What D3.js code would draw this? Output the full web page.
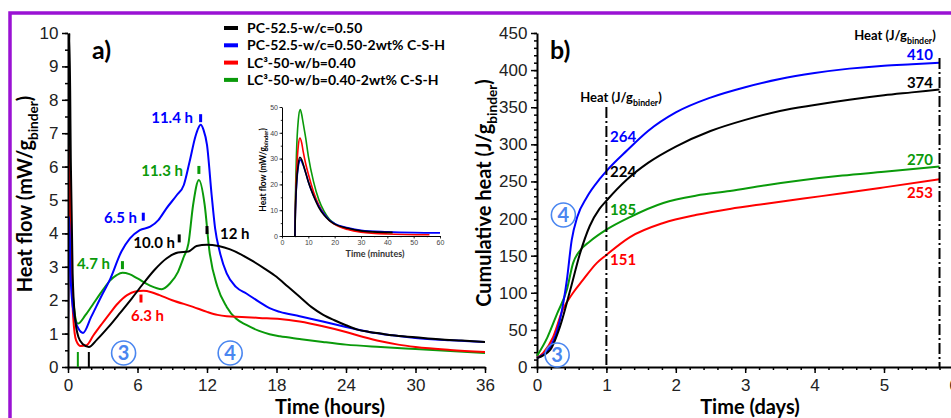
<!DOCTYPE html>
<html>
<head>
<meta charset="utf-8">
<script src="https://cdn.jsdelivr.net/npm/d3@7"></script>
<style>
  body { margin: 0; background: #fff; }
  svg { display: block; }
  text { font-family: Lato, "Open Sans", sans-serif; }
  .tick text { font-family: "Liberation Sans", Arial, sans-serif; }
</style>
</head>
<body>
<svg id="chart" width="951" height="418"></svg>
<script>
// legend / series
const seriesNames = ['PC-52.5-w/c=0.50', 'PC-52.5-w/c=0.50-2wt% C-S-H', 'LC³-50-w/b=0.40', 'LC³-50-w/b=0.40-2wt% C-S-H'];
const seriesColors = ['#000000', '#0000ff', '#ff0000', '#0a9a0a'];

// panel a) heat flow, [hours, mW/g]
const pcFlow = [[0,0.5],[0.12,10],[0.25,6],[0.4,2.8],[0.6,1.5],[0.9,0.9],[1.3,0.68],[1.8,0.6],[2.5,0.82],[3.5,1.2],[4.5,1.62],[5.5,2.05],[6.5,2.5],[7.5,2.92],[8.5,3.25],[9.5,3.43],[10.4,3.46],[11.1,3.62],[12,3.66],[13,3.62],[14,3.52],[15,3.36],[16,3.16],[17,2.94],[18,2.7],[19,2.4],[20,2.1],[21,1.8],[22,1.57],[23,1.4],[24,1.25],[25,1.12],[26,1.05],[27,1.0],[28,0.95],[30,0.89],[32,0.83],[34,0.79],[36,0.75]];
const csFlow = [[0,0.8],[0.1,4.5],[0.25,2.5],[0.5,1.6],[0.9,1.15],[1.3,1.02],[2,1.5],[3,2.2],[3.6,2.6],[4.6,3.45],[5.35,3.85],[6.2,4.1],[7.1,4.2],[7.8,4.4],[8.5,4.75],[9.4,5.15],[10,5.45],[10.5,6.15],[11,6.9],[11.25,7.15],[11.45,7.25],[11.7,7.1],[12,6.65],[12.4,5.15],[12.7,4.15],[13.1,3.45],[13.7,2.8],[14.5,2.4],[15.4,2.2],[16.5,1.95],[17.4,1.76],[18.3,1.65],[20,1.52],[22,1.36],[24,1.2],[26,1.05],[28,0.95],[30,0.87],[33,0.8],[36,0.75]];
const lcFlow = [[0,0.7],[0.1,7],[0.25,3.5],[0.45,1.5],[0.7,0.8],[1.1,0.63],[1.6,0.65],[2.2,0.95],[2.9,1.28],[3.6,1.6],[4.3,1.9],[5.1,2.15],[5.8,2.26],[6.5,2.28],[7.2,2.24],[7.9,2.15],[9,2.0],[10.8,1.8],[12,1.65],[12.9,1.56],[13.7,1.52],[15,1.5],[16.5,1.47],[18.3,1.44],[20,1.36],[22,1.22],[24,1.05],[25.5,0.9],[27,0.77],[28.5,0.67],[30,0.6],[33,0.51],[36,0.45]];
const lcCsFlow = [[0,0.7],[0.1,8],[0.25,4],[0.45,2],[0.85,1.3],[1.5,1.55],[2.2,1.9],[3,2.3],[3.6,2.58],[4.2,2.75],[4.7,2.82],[5.3,2.78],[6,2.65],[7,2.45],[8.1,2.33],[8.8,2.5],[9.5,2.85],[10,3.3],[10.4,3.7],[10.8,4.85],[11.3,5.6],[11.8,4.85],[12.2,3.5],[12.9,2.4],[13.7,1.8],[14.5,1.45],[15.4,1.26],[16.5,1.08],[17.4,0.98],[18.3,0.92],[20,0.84],[22,0.75],[24,0.67],[27,0.6],[30,0.54],[33,0.48],[36,0.42]];

// inset, [minutes, mW/g]
const pcInset = [[4.9,0],[5.1,10],[5.5,20],[6.2,28],[6.8,30.5],[7.5,29.5],[8,28],[9,24.5],[10,21],[12,15.5],[14,11],[16,8],[18,6],[20,4.6],[25,3],[30,2],[35,1.6],[42,1.4]];
const csInset = [[4.9,0],[5.1,10],[5.5,19],[6.2,27],[7,29.5],[8,27.5],[9,24.5],[10,21],[12,15.5],[14,11.5],[16,8.5],[18,6.2],[20,4.8],[25,3.2],[30,2.2],[40,1.6],[50,1.3],[60,1.2]];
const lcInset = [[4.9,0],[5.1,12],[5.6,26],[6.2,35],[6.8,38],[7.5,36],[8,33],[9,28],[10,24],[12,17],[14,12],[16,8.5],[18,6],[20,4.5],[25,2.5],[30,1.5],[40,0.8],[56,0.5]];
const lcCsInset = [[4.9,0],[5.1,15],[5.5,32],[6.2,45],[6.9,49],[7.5,47],[8,44],[9,38],[10,31],[12,21],[14,14],[16,9.5],[18,6.5],[20,4.8],[25,2.8],[30,1.9],[40,1.3],[42,1.25]];

// panel b) cumulative heat, [days, J/g]
const pcCum = [[0,12],[0.19,23],[0.33,54],[0.48,104],[0.62,153],[0.76,190],[0.9,213],[1,224],[1.3,253],[1.6,275],[2,297],[2.5,318],[3,333],[3.5,345],[4,353],[4.5,360],[5,366],[5.4,370],[5.8,374]];
const csCum = [[0,12],[0.19,27],[0.33,63],[0.43,117],[0.5,171],[0.58,202],[0.72,229],[0.91,254],[1,264],[1.3,292],[1.6,318],[2,343],[2.5,363],[3,377],[3.5,388],[4,396],[4.5,402],[5,406],[5.4,408],[5.8,410]];
const lcCum = [[0,12],[0.09,19],[0.23,40],[0.37,77],[0.52,100],[0.66,117],[0.86,140],[1,151],[1.34,175],[1.82,194],[2.3,205],[2.78,213],[3.3,220],[3.84,227],[4.4,234],[5,242],[5.8,253]];
const lcCsCum = [[0,15],[0.15,40],[0.29,72],[0.43,104],[0.52,140],[0.62,157],[0.76,169],[1,185],[1.34,202],[1.82,221],[2.3,231],[2.78,237],[3.3,245],[3.84,252],[4.4,258],[5,263],[5.8,270]];

const flowSeries = [lcCsFlow, lcFlow, csFlow, pcFlow];
const insetSeries = [lcCsInset, lcInset, csInset, pcInset];
const cumSeries = [lcCsCum, lcCum, csCum, pcCum];
const drawColors = [seriesColors[3], seriesColors[2], seriesColors[1], seriesColors[0]];

// peak-time labels in panel a): [text, hours, mW/g of the tick mark, colour index]
const peakLabels = [['11.4 h', 11.45, 7.45, 1], ['11.3 h', 11.3, 5.9, 3], ['6.5 h', 6.5, 4.5, 1], ['10.0 h', 9.6, 3.85, 0], ['12 h', 12, 4.1, 0], ['4.7 h', 4.7, 3.05, 3], ['6.3 h', 6.3, 2.05, 2]];
// day-1 and end values in panel b)
const day1Values = [264, 224, 185, 151];
const endValues = [410, 374, 270, 253];
const day1Colors = [seriesColors[1], seriesColors[0], seriesColors[3], seriesColors[2]];

const svg = d3.select('#chart');

svg.append('rect')
    .attr('x', 10).attr('y', 13)
    .attr('width', 960).attr('height', 440)
    .attr('fill', 'none')
    .attr('stroke', '#9a12d4')
    .attr('stroke-width', 3.5);

const xFlow = d3.scaleLinear().domain([0, 36]).range([68, 485]);
const yFlow = d3.scaleLinear().domain([0, 10]).range([367, 33]);
const xCum = d3.scaleLinear().domain([0, 6]).range([537, 953.4]);
const yCum = d3.scaleLinear().domain([0, 450]).range([367, 33]);
const xIn = d3.scaleLinear().domain([0, 60]).range([282, 440]);
const yIn = d3.scaleLinear().domain([0, 50]).range([236, 107]);

function drawAxes(x, y, xMajor, xMinor, yMajor, yMinor, fontSize, size, pad) {
    const g = svg.append('g');
    const y0 = y.range()[0], x0 = x.range()[0];

    g.append('g').attr('transform', `translate(0,${y0})`)
        .call(d3.axisBottom(x).tickValues(xMinor).tickSize(size / 2).tickFormat(''))
        .call(a => a.select('.domain').remove());
    g.append('g').attr('transform', `translate(${x0},0)`)
        .call(d3.axisLeft(y).tickValues(yMinor).tickSize(size / 2).tickFormat(''))
        .call(a => a.select('.domain').remove());

    g.append('g').attr('transform', `translate(0,${y0})`)
        .call(d3.axisBottom(x).tickValues(xMajor).tickSize(size).tickSizeOuter(0)
            .tickPadding(pad).tickFormat(d3.format('d')));
    g.append('g').attr('transform', `translate(${x0},0)`)
        .call(d3.axisLeft(y).tickValues(yMajor).tickSize(size).tickSizeOuter(0)
            .tickPadding(size * 0.6).tickFormat(d3.format('d')));

    g.selectAll('.tick line').attr('stroke', '#000').attr('stroke-width', size > 4 ? 1.5 : 0.8);
    g.selectAll('.domain').attr('stroke', '#000').attr('stroke-width', size > 4 ? 2 : 1);
    g.selectAll('.tick text').attr('font-size', fontSize).attr('fill', size > 4 ? '#222' : '#444');
    return g;
}

function subLabel(g, x, y, main, sub, size, opts = {}) {
    const t = g.append('text')
        .attr('transform', `translate(${x},${y})` + (opts.rotate ? ' rotate(-90)' : ''))
        .attr('text-anchor', opts.anchor || 'middle')
        .attr('font-size', size)
        .attr('font-weight', 'bold')
        .attr('fill', opts.color || '#000');
    t.append('tspan').text(main);
    t.append('tspan').attr('font-size', size * 0.68).attr('dy', size * 0.28).text(sub);
    t.append('tspan').attr('dy', -size * 0.28).text(')');
    return t;
}

const line = (x, y) => d3.line().x(d => x(d[0])).y(d => y(d[1])).curve(d3.curveMonotoneX);

// ---- panel a)
drawAxes(xFlow, yFlow, d3.range(0, 37, 6), d3.range(0, 37, 1), d3.range(0, 11, 1), d3.range(0, 10.01, 0.5), 17, 6, 5.5);

svg.append('clipPath').attr('id', 'clipA')
    .append('rect').attr('x', 68).attr('y', 33).attr('width', 420).attr('height', 334);

svg.append('g').attr('clip-path', 'url(#clipA)')
    .selectAll('path').data(flowSeries).join('path')
    .attr('d', line(xFlow, yFlow))
    .attr('fill', 'none')
    .attr('stroke', (d, i) => drawColors[i])
    .attr('stroke-width', 2);

// minimum-time marks at the bottom
svg.selectAll('.minMark').data([[0.85, 3], [1.8, 0]]).join('line')
    .attr('x1', d => xFlow(d[0])).attr('x2', d => xFlow(d[0]))
    .attr('y1', yFlow(0.45)).attr('y2', yFlow(0))
    .attr('stroke', d => seriesColors[d[1]]).attr('stroke-width', 2);

const peaks = svg.append('g');
peakLabels.forEach(([txt, t, v, ci]) => {
    const px = xFlow(t), py = yFlow(v);
    peaks.append('rect').attr('x', px - 1.5).attr('y', py - 4).attr('width', 3).attr('height', 8)
        .attr('fill', seriesColors[ci]);
});
const labelPos = {'11.4 h': [193, 123, 'end'], '11.3 h': [183, 176, 'end'], '6.5 h': [137, 223, 'end'],
    '10.0 h': [175, 248, 'end'], '12 h': [220, 239, 'start'], '4.7 h': [110, 269, 'end'], '6.3 h': [131, 321, 'start']};
peakLabels.forEach(([txt, t, v, ci]) => {
    const p = labelPos[txt];
    peaks.append('text').attr('x', p[0]).attr('y', p[1]).attr('text-anchor', p[2])
        .attr('font-size', 15).attr('font-weight', 'bold').attr('fill', seriesColors[ci]).text(txt);
});

svg.append('text').attr('x', 92).attr('y', 59).attr('font-size', 25).attr('font-weight', 'bold').text('a)');

subLabel(svg, 32, 194, 'Heat flow (mW/g', 'binder', 20, {rotate: true});
svg.append('text').attr('x', 330).attr('y', 414).attr('text-anchor', 'middle')
    .attr('font-size', 20).attr('font-weight', 'bold').text('Time (hours)');

// legend
const legend = svg.append('g');
seriesNames.forEach((name, i) => {
    const y = 28 + i * 17.3;
    legend.append('rect').attr('x', 224).attr('y', y - 2).attr('width', 14).attr('height', 4).attr('fill', seriesColors[i]);
    legend.append('text').attr('x', 247).attr('y', y + 5).attr('font-size', 14).attr('font-weight', 'bold').text(name);
});

// inset
drawAxes(xIn, yIn, d3.range(0, 61, 10), d3.range(0, 61, 5), d3.range(0, 51, 10), d3.range(0, 51, 5), 7, 2.5, 1.5);
svg.append('g').selectAll('path').data(insetSeries).join('path')
    .attr('d', line(xIn, yIn))
    .attr('fill', 'none')
    .attr('stroke', (d, i) => drawColors[i])
    .attr('stroke-width', 1.6);
subLabel(svg, 266, 170, 'Heat flow (mW/g', 'binder', 8.5, {rotate: true});
svg.append('text').attr('x', 375).attr('y', 257).attr('text-anchor', 'middle')
    .attr('font-size', 9).attr('font-weight', 'bold').attr('fill', '#333').text('Time (minutes)');

// ---- panel b)
drawAxes(xCum, yCum, d3.range(0, 7, 1), d3.range(0, 6.01, 0.2), d3.range(0, 451, 50), d3.range(0, 451, 10), 17, 6, 5.5);

svg.append('g').selectAll('path').data(cumSeries).join('path')
    .attr('d', line(xCum, yCum))
    .attr('fill', 'none')
    .attr('stroke', (d, i) => drawColors[i])
    .attr('stroke-width', 2);

svg.selectAll('.dayLine').data([[1, 107], [5.8, 58]]).join('line')
    .attr('x1', d => xCum(d[0])).attr('x2', d => xCum(d[0]))
    .attr('y1', d => d[1]).attr('y2', yCum(0))
    .attr('stroke', '#000').attr('stroke-width', 2)
    .attr('stroke-dasharray', '11,3,2,3');

const day1Y = [142, 177, 215, 265];
day1Values.forEach((v, i) => {
    svg.append('text').attr('x', 610).attr('y', day1Y[i])
        .attr('font-size', 15).attr('font-weight', 'bold').attr('fill', day1Colors[i]).text(v);
});
const endY = [60, 88, 165, 198];
endValues.forEach((v, i) => {
    svg.append('text').attr('x', 933).attr('y', endY[i]).attr('text-anchor', 'end')
        .attr('font-size', 15).attr('font-weight', 'bold').attr('fill', day1Colors[i]).text(v);
});

subLabel(svg, 621, 102, 'Heat (J/g', 'binder', 13, {});
subLabel(svg, 895, 40, 'Heat (J/g', 'binder', 13, {});

svg.append('text').attr('x', 550).attr('y', 59).attr('font-size', 25).attr('font-weight', 'bold').text('b)');
subLabel(svg, 491, 193, 'Cumulative heat (J/g', 'binder', 20, {rotate: true});
svg.append('text').attr('x', 750).attr('y', 414).attr('text-anchor', 'middle')
    .attr('font-size', 20).attr('font-weight', 'bold').text('Time (days)');

// circled stage numbers
const stages = [['3', xFlow(4.8), 353], ['4', xFlow(14), 353], ['4', xCum(0.38), 215], ['3', xCum(0.29), 355]];
stages.forEach(([n, cx, cy]) => {
    svg.append('circle').attr('cx', cx).attr('cy', cy).attr('r', 12)
        .attr('fill', 'none').attr('stroke', '#4a86f0').attr('stroke-width', 1.6);
    svg.append('text').attr('x', cx).attr('y', cy + 7).attr('text-anchor', 'middle')
        .attr('font-size', 20).attr('font-weight', 'bold').attr('fill', '#4a86f0').text(n);
});
</script>
</body>
</html>
